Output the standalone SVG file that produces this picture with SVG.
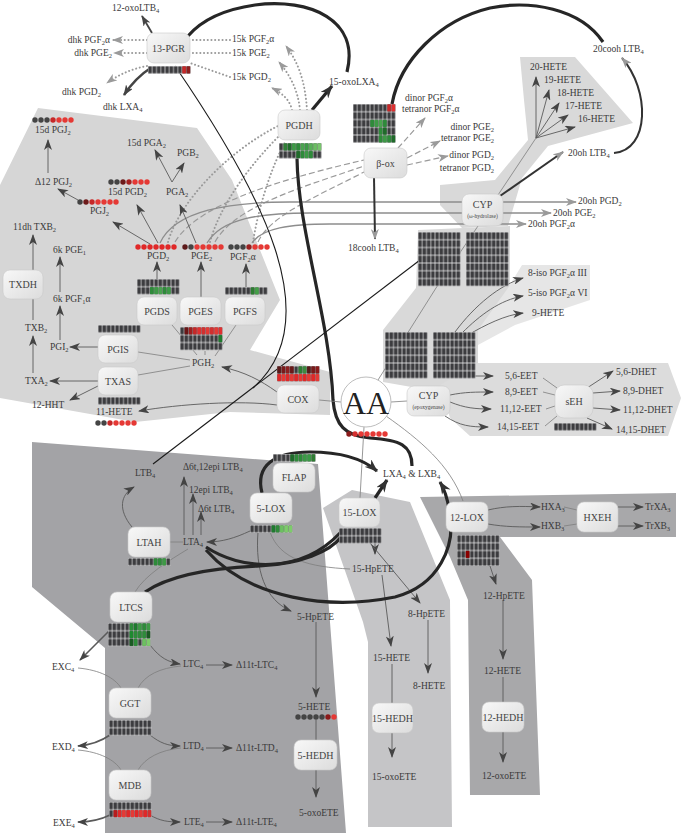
<svg xmlns="http://www.w3.org/2000/svg" width="681" height="833" viewBox="0 0 681 833">
<defs>
<style>
.t{font-family:"Liberation Serif","DejaVu Serif",serif;font-size:9.5px;fill:#3a3a3a}
.e{text-anchor:end}
.nl{font-family:"Liberation Serif","DejaVu Serif",serif;font-size:10px;fill:#444;text-anchor:middle}
.s{font-size:6.5px}
.nd{fill:url(#ng);stroke:#c9c9c9;stroke-width:0.6}
.l{fill:none;stroke:#7d7d7d;stroke-width:0.8}
.a{fill:none;stroke:#5a5a5a;stroke-width:0.9;marker-end:url(#ma)}
.d{fill:none;stroke:#9a9a9a;stroke-width:2;stroke-dasharray:0.1 3.6;stroke-linecap:round}
.dm{marker-end:url(#mg)}
.ds{fill:none;stroke:#9a9a9a;stroke-width:1.2;stroke-dasharray:6 3}
.g{fill:none;stroke:#8d8d8d;stroke-width:1.3;marker-end:url(#mg)}
.k{fill:none;stroke:#262626;stroke-width:3.2}
.km{marker-end:url(#mk)}
.gb{fill:#fff}
.gp{fill:url(#cell)}
</style>
<linearGradient id="ng" x1="0" y1="0" x2="1" y2="1"><stop offset="0" stop-color="#f8f8f8"/><stop offset="1" stop-color="#dcdcdc"/></linearGradient>
<pattern id="cell" width="4.25" height="7.75" patternUnits="userSpaceOnUse"><rect x="0.3" y="0.35" width="3.65" height="7.05" fill="#3c3c3f"/></pattern>
<marker id="ma" viewBox="0 0 11 8" refX="10" refY="4" markerWidth="11" markerHeight="8" markerUnits="userSpaceOnUse" orient="auto"><path d="M0,0 L11,4 L0,8 L3,4 Z" fill="#444"/></marker>
<marker id="mg" viewBox="0 0 11 8" refX="10" refY="4" markerWidth="11" markerHeight="8" markerUnits="userSpaceOnUse" orient="auto"><path d="M0,0 L11,4 L0,8 L3,4 Z" fill="#9a9a9a"/></marker>
<marker id="mk" viewBox="0 0 13 10" refX="12" refY="5" markerWidth="13" markerHeight="10" markerUnits="userSpaceOnUse" orient="auto"><path d="M0,0 L13,5 L0,10 L4,5 Z" fill="#333"/></marker>
</defs>

<g id="regions">
<polygon points="0,185 38,108 197,128 232,180 280,300 250,350 330,372 330,415 230,412 135,422 0,398" fill="#d6d6d6"/>
<polygon points="520,57 575,57 633,123 548,146 522,178 508,226 462,228 440,205 440,185 495,180 528,140 524,100" fill="#d9d9d9"/>
<polygon points="418,230 510,226 510,290 478,332 478,382 440,392 383,382 383,330 416,288" fill="#d9d9d9"/>
<polygon points="508,288 522,265 590,265 590,300 515,325 478,345 478,330" fill="#e6e6e6"/>
<polygon points="440,385 478,363 668,363 681,398 668,436 470,436 450,418" fill="#dcdcdc"/>
<polygon points="32,442 318,464 346,833 105,833 105,648 32,587" fill="#a3a3a6"/>
<polygon points="323,508 352,490 410,502 450,600 452,827 368,827 368,642 363,622" fill="#c5c5c7"/>
<polygon points="420,497 676,493 676,537 500,537 532,580 540,795 470,795 468,600 450,557" fill="#a8a8aa"/>
</g>

<g id="connectors">
<path class="a" style="stroke:#444;stroke-width:1.8" d="M152,33 L142,16"/>
<path class="d" d="M230,40 L190,40"/>
<path class="d dm" d="M147,40 L113,40"/>
<path class="d" d="M230,53 L190,53"/>
<path class="d dm" d="M147,53 L114,53"/>
<path class="d" d="M230,77 Q210,70 190,63"/>
<path class="d dm" d="M147,66 Q125,70 107,83"/>
<path class="a" style="stroke:#444;stroke-width:2.5" d="M152,67 Q135,78 124,95"/>
<path class="d dm" d="M307,110 C305,80 298,62 286,46"/>
<path class="d dm" d="M300,110 C298,90 290,75 279,62"/>
<path class="d dm" d="M292,110 C290,100 282,93 272,88"/>
<path class="d" d="M168,242 C180,200 230,150 278,126"/>
<path class="d" d="M210,242 C220,205 250,165 279,136"/>
<path class="d" d="M253,242 C258,210 270,170 285,142"/>
<path class="ds" d="M175,242 C200,200 300,175 364,160"/>
<path class="ds" d="M215,242 C235,205 310,185 364,166"/>
<path class="ds" d="M258,242 C270,215 320,195 364,172"/>
<path class="ds dm" d="M398,148 L425,118"/>
<path class="ds dm" d="M407,158 L440,141"/>
<path class="ds dm" d="M407,165 L448,156"/>
<path class="g" d="M160,243 C175,210 230,202 290,202 L576,202"/>
<path class="g" d="M207,243 C222,218 260,213 310,213 L551,213"/>
<path class="g" d="M252,243 C262,228 290,224 330,224 L526,224"/>
<path class="k" d="M347,72 C360,20 310,-2 255,5 C220,10 200,22 188,36"/>
<path class="k km" d="M312,110 L332,86"/>
<path class="k" d="M297,158 C298,230 330,320 333,400 C335,425 345,436 370,438 C400,440 412,445 412,466"/>
<path class="k" d="M603,42 C580,8 530,0 490,8 C440,20 400,60 392,104"/>
<path class="g" style="stroke:#333;stroke-width:2" d="M374,177 L375,239"/>
<path class="g" style="stroke:#333;stroke-width:2" d="M614,153 C650,150 650,90 622,58"/>
<path class="g" style="stroke:#333;stroke-width:2" d="M500,196 L563,152"/>
<path class="l" d="M498,195 L536,138"/>
<path class="a" d="M536,138 L536,77"/>
<path class="a" d="M536,138 L549,90"/>
<path class="a" d="M536,138 L559,103"/>
<path class="a" d="M536,138 L568,115"/>
<path class="a" d="M536,138 L575,127"/>
<path class="a" d="M48,173 L48,140"/>
<path class="a" d="M78,200 L58,189"/>
<path class="a" d="M150,244 L113,222"/>
<path class="a" d="M158,243 L137,205"/>
<path class="a" d="M196,243 L180,205"/>
<path class="a" d="M172,182 L155,150"/>
<path class="a" d="M172,182 L184,163"/>
<path class="a" d="M157,279 L157,262"/>
<path class="a" d="M201,297 L201,262"/>
<path class="a" d="M246,287 L246,264"/>
<path class="l" d="M197,355 L172,325"/>
<path class="l" d="M205,355 L205,351"/>
<path class="l" d="M215,356 L236,325"/>
<path class="l" d="M190,360 L138,352"/>
<path class="l" d="M190,366 L138,375"/>
<path class="a" d="M277,392 C260,380 245,372 222,367"/>
<path class="a" d="M277,405 C240,400 180,404 139,411"/>
<path class="a" d="M98,347 L70,347"/>
<path class="a" d="M98,381 L50,381"/>
<path class="a" d="M98,386 L70,400"/>
<path class="a" d="M33,373 L33,336"/>
<path class="a" d="M33,320 L33,235"/>
<path class="a" d="M60,340 L60,306"/>
<path class="a" d="M60,292 L60,257"/>
<path style="fill:none;stroke:#1a1a1a;stroke-width:1.1" d="M153,464 L420,260"/>
<path style="fill:none;stroke:#1a1a1a;stroke-width:1.1" d="M175,66 C260,190 330,320 253,388"/>
<path class="l" d="M341,402 L319,400"/>
<path class="l" d="M391,402 L407,401"/>
<path class="l" d="M364,427 L360,498"/>
<path class="l" d="M386,416 C420,440 450,465 463,501"/>
<path class="l" d="M378,380 L436,288 L478,226"/>
<path class="a" d="M455,332 C475,305 500,285 523,278"/>
<path class="a" d="M462,333 C480,315 500,300 523,296"/>
<path class="a" d="M468,335 C485,325 505,315 523,313"/>
<path class="a" d="M468,376 L493,376"/>
<path class="a" d="M450,395 C465,392 475,392 493,392"/>
<path class="a" d="M450,402 C465,408 475,409 491,409"/>
<path class="a" d="M445,416 C460,426 470,427 488,427"/>
<path class="l" d="M543,378 L557,388"/>
<path class="l" d="M543,392 L555,395"/>
<path class="l" d="M546,409 L555,406"/>
<path class="l" d="M545,426 L557,416"/>
<path class="a" d="M587,388 L613,371"/>
<path class="a" d="M593,393 L620,391"/>
<path class="a" d="M593,408 L620,410"/>
<path class="a" d="M587,418 L612,429"/>
<path class="a" d="M184,535 L184,477"/>
<path class="a" d="M193,535 L193,494"/>
<path class="a" d="M201,535 L201,512"/>
<path class="l" d="M170,542 L183,542"/>
<path class="a" d="M132,527 C118,510 120,495 134,487"/>
<path class="l" d="M188,549 C170,560 145,575 135,592"/>
<path class="a" d="M250,531 C235,538 222,542 207,542"/>
<path class="a" d="M258,532 C255,570 265,600 291,611"/>
<path class="l" d="M270,532 C280,560 310,567 350,569"/>
<path class="a" d="M375,543 L375,554"/>
<path class="a" d="M370,543 L420,603"/>
<path class="a" d="M382,575 L391,646"/>
<path class="a" d="M428,620 L428,673"/>
<path class="a" d="M392,664 L392,757"/>
<path class="a" d="M316,622 L316,697"/>
<path class="a" d="M316,720 L316,797"/>
<path class="a" d="M490,566 L496,584"/>
<path class="a" d="M503,600 L503,659"/>
<path class="a" d="M503,677 L503,762"/>
<path class="a" d="M488,510 C505,506 520,506 540,507"/>
<path class="a" d="M488,524 C505,527 520,527 540,527"/>
<path class="l" d="M564,507 L577,510"/>
<path class="l" d="M564,526 L577,524"/>
<path class="a" d="M618,507 L643,507"/>
<path class="a" d="M618,526 L643,526"/>
<path class="k km" d="M262,493 C255,465 275,452 310,452 C340,452 362,458 377,471"/>
<path class="k km" d="M375,498 L387,480"/>
<path class="k" d="M206,547 C240,570 300,575 340,533"/>
<path class="k km" d="M206,550 C250,600 330,610 395,597 C440,585 455,545 450,515 C448,500 445,490 440,482"/>
<path class="k" d="M145,592 C170,575 210,568 260,566 C300,564 330,552 342,536"/>
<path class="a" style="stroke-width:1.6" d="M110,630 L80,660"/>
<path class="a" d="M150,645 C160,658 168,662 180,664"/>
<path class="l" d="M78,668 C100,670 115,678 121,688"/>
<path class="l" d="M181,666 C160,668 145,675 138,688"/>
<path class="a" d="M206,665 L232,665"/>
<path class="a" style="stroke-width:1.6" d="M110,735 C100,742 90,745 78,746"/>
<path class="a" d="M150,735 C160,743 168,746 180,746"/>
<path class="l" d="M78,750 C100,752 115,760 121,770"/>
<path class="l" d="M181,748 C160,750 145,758 138,770"/>
<path class="a" d="M206,748 L232,748"/>
<path class="a" style="stroke-width:1.6" d="M110,815 C100,820 90,822 78,822"/>
<path class="a" d="M150,815 C160,821 168,822 180,822"/>
<path class="a" d="M206,822 L232,822"/>
</g>

<g id="nodes">
<g id="n-13PGR"><rect class="nd" x="147" y="33" width="43" height="30" rx="7"/><text class="nl" x="168.5" y="52">13-PGR</text>
<g transform="translate(148,66)"><rect class="gb" width="42.5" height="7.75"/><rect class="gp" width="42.5" height="7.75"/><rect x="34.3" y="0.35" width="3.65" height="7.05" fill="#c62828"/><rect x="38.55" y="0.35" width="3.65" height="7.05" fill="#8e1e1e"/></g></g>

<g id="n-PGDH"><rect class="nd" x="278" y="110" width="42" height="30" rx="7"/><text class="nl" x="299" y="129">PGDH</text>
<g transform="translate(279,143)"><rect class="gb" width="42.5" height="15.5"/><rect class="gp" width="42.5" height="15.5"/>
<rect x="4.55" y="0.35" width="3.65" height="7.05" fill="#2f7f36"/><rect x="8.8" y="0.35" width="3.65" height="7.05" fill="#1f6b2a"/><rect x="13.05" y="0.35" width="3.65" height="7.05" fill="#3d9a46"/><rect x="17.3" y="0.35" width="3.65" height="7.05" fill="#2e8b3a"/><rect x="21.55" y="0.35" width="3.65" height="7.05" fill="#4aa34f"/><rect x="25.8" y="0.35" width="3.65" height="7.05" fill="#3d9a46"/><rect x="30.05" y="0.35" width="3.65" height="7.05" fill="#58b058"/><rect x="34.3" y="0.35" width="3.65" height="7.05" fill="#6abd62"/><rect x="38.55" y="0.35" width="3.65" height="7.05" fill="#77c56c"/>
<rect x="17.3" y="8.1" width="3.65" height="7.05" fill="#1f6b2a"/><rect x="21.55" y="8.1" width="3.65" height="7.05" fill="#2e8b3a"/><rect x="25.8" y="8.1" width="3.65" height="7.05" fill="#3d9a46"/><rect x="30.05" y="8.1" width="3.65" height="7.05" fill="#2e8b3a"/></g></g>

<g id="n-box"><rect class="nd" x="364" y="148" width="43" height="30" rx="7"/><text class="nl" x="385.5" y="167">β-ox</text>
<g transform="translate(353,104)"><rect class="gb" width="42.5" height="38.75"/><rect class="gp" width="42.5" height="38.75"/>
<rect x="34.3" y="0.35" width="3.65" height="7.05" fill="#c62828"/><rect x="38.55" y="0.35" width="3.65" height="7.05" fill="#e03030"/>
<rect x="17.3" y="15.85" width="3.65" height="7.05" fill="#2e8b3a"/><rect x="21.55" y="15.85" width="3.65" height="7.05" fill="#3d9a46"/><rect x="25.8" y="15.85" width="3.65" height="7.05" fill="#4aa34f"/><rect x="30.05" y="15.85" width="3.65" height="7.05" fill="#2e8b3a"/>
<rect x="25.8" y="23.6" width="3.65" height="7.05" fill="#2e8b3a"/><rect x="30.05" y="23.6" width="3.65" height="7.05" fill="#1f6b2a"/>
<rect x="25.8" y="31.35" width="3.65" height="7.05" fill="#2e8b3a"/><rect x="30.05" y="31.35" width="3.65" height="7.05" fill="#3d9a46"/><rect x="34.3" y="31.35" width="3.65" height="7.05" fill="#2e8b3a"/><rect x="38.55" y="31.35" width="3.65" height="7.05" fill="#1f6b2a"/></g></g>

<g id="n-CYPw"><rect class="nd" x="462" y="194" width="41" height="32" rx="7"/><text class="nl" x="482.5" y="208">CYP</text><text class="nl" x="482.5" y="218" style="font-size:5.5px">(ω-hydrolase)</text></g>

<g id="grids-cyp">
<g transform="translate(418,232)"><rect class="gb" width="42.5" height="54.25"/><rect class="gp" width="42.5" height="54.25"/></g>
<g transform="translate(466,232)"><rect class="gb" width="42.5" height="54.25"/><rect class="gp" width="42.5" height="54.25"/></g>
<g transform="translate(385,332)"><rect class="gb" width="42.5" height="46.5"/><rect class="gp" width="42.5" height="46.5"/></g>
<g transform="translate(433,332)"><rect class="gb" width="42.5" height="46.5"/><rect class="gp" width="42.5" height="46.5"/></g>
</g>

<g id="n-PGDS"><rect class="nd" x="137" y="297" width="40" height="28" rx="7"/><text class="nl" x="157" y="315">PGDS</text>
<g transform="translate(137,279)"><rect class="gb" width="42.5" height="15.5"/><rect class="gp" width="42.5" height="15.5"/>
<rect x="13.05" y="8.1" width="3.65" height="7.05" fill="#2e8b3a"/><rect x="17.3" y="8.1" width="3.65" height="7.05" fill="#3d9a46"/><rect x="21.55" y="8.1" width="3.65" height="7.05" fill="#4aa34f"/><rect x="25.8" y="8.1" width="3.65" height="7.05" fill="#2e8b3a"/><rect x="30.05" y="8.1" width="3.65" height="7.05" fill="#3d9a46"/></g></g>

<g id="n-PGES"><rect class="nd" x="180" y="297" width="41" height="28" rx="7"/><text class="nl" x="200.5" y="315">PGES</text>
<g transform="translate(180,327)"><rect class="gb" width="42.5" height="23.25"/><rect class="gp" width="42.5" height="23.25"/>
<rect x="4.55" y="0.35" width="3.65" height="7.05" fill="#6a1616"/><rect x="8.8" y="0.35" width="3.65" height="7.05" fill="#9e1f1f"/><rect x="13.05" y="0.35" width="3.65" height="7.05" fill="#c62828"/><rect x="17.3" y="0.35" width="3.65" height="7.05" fill="#e03030"/><rect x="21.55" y="0.35" width="3.65" height="7.05" fill="#d32f2f"/><rect x="25.8" y="0.35" width="3.65" height="7.05" fill="#e53935"/><rect x="30.05" y="0.35" width="3.65" height="7.05" fill="#d32f2f"/><rect x="34.3" y="0.35" width="3.65" height="7.05" fill="#e53935"/><rect x="38.55" y="0.35" width="3.65" height="7.05" fill="#e03030"/>
<rect x="38.55" y="8.1" width="3.65" height="7.05" fill="#1f7a2e"/></g></g>

<g id="n-PGFS"><rect class="nd" x="225" y="297" width="40" height="28" rx="7"/><text class="nl" x="245" y="315">PGFS</text>
<g transform="translate(225,287)"><rect class="gb" width="42.5" height="7.75"/><rect class="gp" width="42.5" height="7.75"/><rect x="25.8" y="0.35" width="3.65" height="7.05" fill="#2e7d32"/><rect x="30.05" y="0.35" width="3.65" height="7.05" fill="#43a047"/></g></g>

<g id="n-PGIS"><rect class="nd" x="98" y="335" width="40" height="28" rx="7"/><text class="nl" x="118" y="353">PGIS</text>
<g transform="translate(98,325)"><rect class="gb" width="42.5" height="7.75"/><rect class="gp" width="42.5" height="7.75"/></g></g>

<g id="n-TXAS"><rect class="nd" x="98" y="367" width="40" height="28" rx="7"/><text class="nl" x="118" y="385">TXAS</text>
<g transform="translate(98,397)"><rect class="gb" width="42.5" height="7.75"/><rect class="gp" width="42.5" height="7.75"/></g></g>

<g id="n-TXDH"><rect class="nd" x="3" y="270" width="40" height="29" rx="7"/><text class="nl" x="23" y="288">TXDH</text></g>

<g id="n-COX"><rect class="nd" x="277" y="385" width="42" height="28" rx="7"/><text class="nl" x="298" y="403">COX</text>
<g transform="translate(277,366)"><rect class="gb" width="42.5" height="15.5"/><rect class="gp" width="42.5" height="15.5"/>
<rect x="0.3" y="0.35" width="3.65" height="7.05" fill="#5a1a1a"/><rect x="4.55" y="0.35" width="3.65" height="7.05" fill="#7a1a1a"/><rect x="8.8" y="0.35" width="3.65" height="7.05" fill="#8e2020"/><rect x="13.05" y="0.35" width="3.65" height="7.05" fill="#6a1a1a"/><rect x="21.55" y="0.35" width="3.65" height="7.05" fill="#2e7d32"/><rect x="25.8" y="0.35" width="3.65" height="7.05" fill="#3d8b40"/><rect x="30.05" y="0.35" width="3.65" height="7.05" fill="#5a1a1a"/><rect x="34.3" y="0.35" width="3.65" height="7.05" fill="#7a1a1a"/><rect x="38.55" y="0.35" width="3.65" height="7.05" fill="#8b1a1a"/>
<rect x="0.3" y="8.1" width="3.65" height="7.05" fill="#e02828"/><rect x="4.55" y="8.1" width="3.65" height="7.05" fill="#e53935"/><rect x="8.8" y="8.1" width="3.65" height="7.05" fill="#e02828"/><rect x="13.05" y="8.1" width="3.65" height="7.05" fill="#e53935"/><rect x="17.3" y="8.1" width="3.65" height="7.05" fill="#e02828"/><rect x="21.55" y="8.1" width="3.65" height="7.05" fill="#e53935"/><rect x="25.8" y="8.1" width="3.65" height="7.05" fill="#e02828"/><rect x="30.05" y="8.1" width="3.65" height="7.05" fill="#e53935"/><rect x="34.3" y="8.1" width="3.65" height="7.05" fill="#e02828"/><rect x="38.55" y="8.1" width="3.65" height="7.05" fill="#e53935"/></g></g>

<g id="n-AA"><circle cx="366" cy="402" r="25" fill="#fff" stroke="#bdbdbd" stroke-width="1"/><text x="366" y="414" style="font-family:'Liberation Serif',serif;font-size:32px;fill:#222;text-anchor:middle">AA</text></g>

<g id="n-CYPe"><rect class="nd" x="407" y="386" width="43" height="30" rx="7"/><text class="nl" x="428.5" y="399">CYP</text><text class="nl" x="428.5" y="409" style="font-size:5.5px">(epoxygenase)</text></g>

<g id="n-sEH"><rect class="nd" x="555" y="385" width="38" height="33" rx="9"/><text class="nl" x="574" y="405">sEH</text>
<g transform="translate(554,423)"><rect class="gb" width="42.5" height="7.75"/><rect class="gp" width="42.5" height="7.75"/></g></g>

<g id="n-FLAP"><rect class="nd" x="273" y="463" width="42" height="29" rx="7"/><text class="nl" x="294" y="481">FLAP</text>
<g transform="translate(273,454)"><rect class="gb" width="42.5" height="7.75"/><rect class="gp" width="42.5" height="7.75"/>
<rect x="17.3" y="0.35" width="3.65" height="7.05" fill="#1e6b2a"/><rect x="21.55" y="0.35" width="3.65" height="7.05" fill="#2e8b3a"/><rect x="25.8" y="0.35" width="3.65" height="7.05" fill="#2e8b3a"/><rect x="30.05" y="0.35" width="3.65" height="7.05" fill="#3a9a45"/><rect x="34.3" y="0.35" width="3.65" height="7.05" fill="#3a9a45"/><rect x="38.55" y="0.35" width="3.65" height="7.05" fill="#2e7d32"/></g></g>

<g id="n-5LOX"><rect class="nd" x="250" y="493" width="42" height="30" rx="7"/><text class="nl" x="271" y="512">5-LOX</text>
<g transform="translate(250,525)"><rect class="gb" width="42.5" height="7.75"/><rect class="gp" width="42.5" height="7.75"/>
<rect x="21.55" y="0.35" width="3.65" height="7.05" fill="#1f7a30"/><rect x="25.8" y="0.35" width="3.65" height="7.05" fill="#2e8b3a"/><rect x="30.05" y="0.35" width="3.65" height="7.05" fill="#6cc060"/><rect x="34.3" y="0.35" width="3.65" height="7.05" fill="#7dcc6b"/><rect x="38.55" y="0.35" width="3.65" height="7.05" fill="#7dcc6b"/></g></g>

<g id="n-15LOX"><rect class="nd" x="339" y="498" width="41" height="29" rx="7"/><text class="nl" x="359.5" y="516">15-LOX</text>
<g transform="translate(339,528)"><rect class="gb" width="42.5" height="15.5"/><rect class="gp" width="42.5" height="15.5"/></g></g>

<g id="n-12LOX"><rect class="nd" x="446" y="502" width="42" height="30" rx="7"/><text class="nl" x="467" y="521">12-LOX</text>
<g transform="translate(457,535)"><rect class="gb" width="42.5" height="31"/><rect class="gp" width="42.5" height="31"/><rect x="8.8" y="15.85" width="3.65" height="7.05" fill="#8b0000"/></g></g>

<g id="n-HXEH"><rect class="nd" x="577" y="502" width="41" height="30" rx="7"/><text class="nl" x="597.5" y="521">HXEH</text></g>

<g id="n-LTAH"><rect class="nd" x="128" y="527" width="42" height="30" rx="7"/><text class="nl" x="149" y="546">LTAH</text>
<g transform="translate(128,558)"><rect class="gb" width="42.5" height="7.75"/><rect class="gp" width="42.5" height="7.75"/>
<rect x="25.8" y="0.35" width="3.65" height="7.05" fill="#2e8b3a"/><rect x="30.05" y="0.35" width="3.65" height="7.05" fill="#2e8b3a"/><rect x="34.3" y="0.35" width="3.65" height="7.05" fill="#3d9a45"/></g></g>

<g id="n-LTCS"><rect class="nd" x="110" y="592" width="42" height="30" rx="7"/><text class="nl" x="131" y="611">LTCS</text>
<g transform="translate(108,623)"><rect class="gb" width="42.5" height="23.25"/><rect class="gp" width="42.5" height="23.25"/>
<rect x="21.55" y="0.35" width="3.65" height="7.05" fill="#2e8b3a"/><rect x="25.8" y="0.35" width="3.65" height="7.05" fill="#1e7a2e"/><rect x="30.05" y="0.35" width="3.65" height="7.05" fill="#3d9a45"/><rect x="34.3" y="0.35" width="3.65" height="7.05" fill="#2e8b3a"/><rect x="38.55" y="0.35" width="3.65" height="7.05" fill="#3d9a45"/>
<rect x="21.55" y="8.1" width="3.65" height="7.05" fill="#1e8a30"/><rect x="25.8" y="8.1" width="3.65" height="7.05" fill="#2e8b3a"/><rect x="30.05" y="8.1" width="3.65" height="7.05" fill="#2e8b3a"/><rect x="34.3" y="8.1" width="3.65" height="7.05" fill="#2e8b3a"/><rect x="38.55" y="8.1" width="3.65" height="7.05" fill="#1a5a22"/>
<rect x="21.55" y="15.85" width="3.65" height="7.05" fill="#1a5a22"/><rect x="25.8" y="15.85" width="3.65" height="7.05" fill="#2e8b3a"/><rect x="34.3" y="15.85" width="3.65" height="7.05" fill="#6cc060"/><rect x="38.55" y="15.85" width="3.65" height="7.05" fill="#7dcc6b"/></g></g>

<g id="n-GGT"><rect class="nd" x="109" y="688" width="42" height="30" rx="7"/><text class="nl" x="130" y="707">GGT</text>
<g transform="translate(109,720)"><rect class="gb" width="42.5" height="15.5"/><rect class="gp" width="42.5" height="15.5"/></g></g>

<g id="n-MDB"><rect class="nd" x="109" y="770" width="42" height="30" rx="7"/><text class="nl" x="130" y="789">MDB</text>
<g transform="translate(109,802)"><rect class="gb" width="42.5" height="15.5"/><rect class="gp" width="42.5" height="15.5"/>
<rect x="4.55" y="8.1" width="3.65" height="7.05" fill="#b71c1c"/><rect x="8.8" y="8.1" width="3.65" height="7.05" fill="#e02828"/><rect x="13.05" y="8.1" width="3.65" height="7.05" fill="#e53935"/><rect x="17.3" y="8.1" width="3.65" height="7.05" fill="#e02828"/><rect x="21.55" y="8.1" width="3.65" height="7.05" fill="#e53935"/><rect x="25.8" y="8.1" width="3.65" height="7.05" fill="#e02828"/><rect x="30.05" y="8.1" width="3.65" height="7.05" fill="#e53935"/><rect x="34.3" y="8.1" width="3.65" height="7.05" fill="#e02828"/><rect x="38.55" y="8.1" width="3.65" height="7.05" fill="#d32f2f"/></g></g>

<g id="n-5HEDH"><rect class="nd" x="294" y="740" width="43" height="30" rx="7"/><text class="nl" x="315.5" y="759">5-HEDH</text></g>
<g id="n-15HEDH"><rect class="nd" x="372" y="703" width="41" height="30" rx="7"/><text class="nl" x="392.5" y="722">15-HEDH</text></g>
<g id="n-12HEDH"><rect class="nd" x="482" y="702" width="42" height="30" rx="7"/><text class="nl" x="503" y="721">12-HEDH</text></g>
</g>

<g id="dots">
<g fill="#444"><circle cx="35" cy="120" r="2.7"/><circle cx="41" cy="120" r="2.7"/><circle cx="47" cy="120" r="2.7"/></g>
<g fill="#e53935"><circle cx="53" cy="120" r="2.7" fill="#c62828"/><circle cx="59" cy="120" r="2.7"/><circle cx="65" cy="120" r="2.7"/><circle cx="71" cy="120" r="2.7"/></g>
<g fill="#e53935"><circle cx="111" cy="182" r="2.7" fill="#444"/><circle cx="117" cy="182" r="2.7" fill="#444"/><circle cx="123" cy="182" r="2.7" fill="#6d1b1b"/><circle cx="129" cy="182" r="2.7" fill="#a52020"/><circle cx="135" cy="182" r="2.7"/><circle cx="141" cy="182" r="2.7"/><circle cx="147" cy="182" r="2.7"/></g>
<g fill="#e53935"><circle cx="80" cy="202" r="2.7" fill="#444"/><circle cx="86" cy="202" r="2.7" fill="#6d1b1b"/><circle cx="92" cy="202" r="2.7" fill="#c62828"/><circle cx="98" cy="202" r="2.7"/><circle cx="104" cy="202" r="2.7"/><circle cx="110" cy="202" r="2.7"/><circle cx="116" cy="202" r="2.7"/></g>
<g fill="#e02828"><circle cx="138" cy="247" r="2.7"/><circle cx="144" cy="247" r="2.7"/><circle cx="150" cy="247" r="2.7"/><circle cx="156" cy="247" r="2.7"/><circle cx="162" cy="247" r="2.7"/><circle cx="168" cy="247" r="2.7"/><circle cx="174" cy="247" r="2.7"/></g>
<g fill="#e53935"><circle cx="185" cy="247" r="2.7" fill="#5c1a1a"/><circle cx="191" cy="247" r="2.7" fill="#444"/><circle cx="197" cy="247" r="2.7"/><circle cx="203" cy="247" r="2.7"/><circle cx="209" cy="247" r="2.7"/><circle cx="215" cy="247" r="2.7"/><circle cx="221" cy="247" r="2.7"/></g>
<g fill="#e53935"><circle cx="231" cy="247" r="2.7" fill="#444"/><circle cx="237" cy="247" r="2.7" fill="#444"/><circle cx="243" cy="247" r="2.7" fill="#444"/><circle cx="249" cy="247" r="2.7" fill="#9a2020"/><circle cx="255" cy="247" r="2.7"/><circle cx="261" cy="247" r="2.7"/><circle cx="267" cy="247" r="2.7"/></g>
<g fill="#e53935"><circle cx="98" cy="423" r="2.7" fill="#444"/><circle cx="104" cy="423" r="2.7" fill="#444"/><circle cx="110" cy="423" r="2.7" fill="#c62828"/><circle cx="116" cy="423" r="2.7"/><circle cx="122" cy="423" r="2.7"/><circle cx="128" cy="423" r="2.7"/><circle cx="134" cy="423" r="2.7"/></g>
<g fill="#444"><circle cx="298" cy="717" r="2.7"/><circle cx="304" cy="717" r="2.7"/><circle cx="310" cy="717" r="2.7"/><circle cx="316" cy="717" r="2.7"/><circle cx="322" cy="717" r="2.7"/><circle cx="328" cy="717" r="2.7" fill="#8b1a1a"/><circle cx="334" cy="717" r="2.7" fill="#e53935"/></g>
<g fill="#e53935"><circle cx="349" cy="434" r="2.7" fill="#8b1a1a"/><circle cx="355" cy="434" r="2.7" fill="#d32f2f"/><circle cx="361" cy="434" r="2.7"/><circle cx="367" cy="434" r="2.7"/><circle cx="373" cy="434" r="2.7"/><circle cx="379" cy="434" r="2.7"/><circle cx="385" cy="434" r="2.7"/></g>
</g>

<g id="labels">
<text class="t" x="112" y="11">12-oxoLTB<tspan class="s" dy="2">4</tspan></text>
<text class="t e" x="110" y="43">dhk PGF<tspan class="s" dy="2">2</tspan><tspan dy="-2">α</tspan></text>
<text class="t e" x="112" y="56">dhk PGE<tspan class="s" dy="2">2</tspan></text>
<text class="t" x="62" y="95">dhk PGD<tspan class="s" dy="2">2</tspan></text>
<text class="t" x="103" y="110">dhk LXA<tspan class="s" dy="2">4</tspan></text>
<text class="t" x="232" y="42">15k PGF<tspan class="s" dy="2">2</tspan><tspan dy="-2">α</tspan></text>
<text class="t" x="232" y="56">15k PGE<tspan class="s" dy="2">2</tspan></text>
<text class="t" x="232" y="80">15k PGD<tspan class="s" dy="2">2</tspan></text>
<text class="t" x="329" y="85">15-oxoLXA<tspan class="s" dy="2">4</tspan></text>
<text class="t" x="405" y="101">dinor PGF<tspan class="s" dy="2">2</tspan><tspan dy="-2">α</tspan></text>
<text class="t" x="402" y="112">tetranor PGF<tspan class="s" dy="2">2</tspan><tspan dy="-2">α</tspan></text>
<text class="t e" x="494" y="130">dinor PGE<tspan class="s" dy="2">2</tspan></text>
<text class="t e" x="494" y="141">tetranor PGE<tspan class="s" dy="2">2</tspan></text>
<text class="t e" x="494" y="158">dinor PGD<tspan class="s" dy="2">2</tspan></text>
<text class="t e" x="494" y="171">tetranor PGD<tspan class="s" dy="2">2</tspan></text>
<text class="t" x="593" y="52">20cooh LTB<tspan class="s" dy="2">4</tspan></text>
<text class="t" x="530" y="70">20-HETE</text>
<text class="t" x="544" y="83">19-HETE</text>
<text class="t" x="557" y="96">18-HETE</text>
<text class="t" x="565" y="109">17-HETE</text>
<text class="t" x="578" y="122">16-HETE</text>
<text class="t" x="568" y="156">20oh LTB<tspan class="s" dy="2">4</tspan></text>
<text class="t" x="578" y="204">20oh PGD<tspan class="s" dy="2">2</tspan></text>
<text class="t" x="553" y="216">20oh PGE<tspan class="s" dy="2">2</tspan></text>
<text class="t" x="528" y="227">20oh PGF<tspan class="s" dy="2">2</tspan><tspan dy="-2">α</tspan></text>
<text class="t" x="348" y="251">18cooh LTB<tspan class="s" dy="2">4</tspan></text>
<text class="t" x="35" y="133">15d PGJ<tspan class="s" dy="2">2</tspan></text>
<text class="t" x="35" y="185">Δ12 PGJ<tspan class="s" dy="2">2</tspan></text>
<text class="t" x="127" y="146">15d PGA<tspan class="s" dy="2">2</tspan></text>
<text class="t" x="177" y="156">PGB<tspan class="s" dy="2">2</tspan></text>
<text class="t" x="108" y="195">15d PGD<tspan class="s" dy="2">2</tspan></text>
<text class="t" x="166" y="195">PGA<tspan class="s" dy="2">2</tspan></text>
<text class="t" x="90" y="214">PGJ<tspan class="s" dy="2">2</tspan></text>
<text class="t" x="13" y="230">11dh TXB<tspan class="s" dy="2">2</tspan></text>
<text class="t" x="53" y="253">6k PGE<tspan class="s" dy="2">1</tspan></text>
<text class="t" x="53" y="302">6k PGF<tspan class="s" dy="2">1</tspan><tspan dy="-2">α</tspan></text>
<text class="t" x="25" y="331">TXB<tspan class="s" dy="2">2</tspan></text>
<text class="t" x="50" y="350">PGI<tspan class="s" dy="2">2</tspan></text>
<text class="t" x="25" y="384">TXA<tspan class="s" dy="2">2</tspan></text>
<text class="t" x="32" y="408">12-HHT</text>
<text class="t" x="96" y="415">11-HETE</text>
<text class="t" x="147" y="259">PGD<tspan class="s" dy="2">2</tspan></text>
<text class="t" x="191" y="259">PGE<tspan class="s" dy="2">2</tspan></text>
<text class="t" x="230" y="260">PGF<tspan class="s" dy="2">2</tspan><tspan dy="-2">α</tspan></text>
<text class="t" x="192" y="366">PGH<tspan class="s" dy="2">2</tspan></text>
<text class="t" x="528" y="276">8-iso PGF<tspan class="s" dy="2">2</tspan><tspan dy="-2">α III</tspan></text>
<text class="t" x="528" y="296">5-iso PGF<tspan class="s" dy="2">2</tspan><tspan dy="-2">α VI</tspan></text>
<text class="t" x="532" y="316">9-HETE</text>
<text class="t" x="505" y="379">5,6-EET</text>
<text class="t" x="505" y="395">8,9-EET</text>
<text class="t" x="500" y="412">11,12-EET</text>
<text class="t" x="497" y="430">14,15-EET</text>
<text class="t" x="616" y="375">5,6-DHET</text>
<text class="t" x="623" y="394">8,9-DHET</text>
<text class="t" x="623" y="413">11,12-DHET</text>
<text class="t" x="616" y="433">14,15-DHET</text>
<text class="t" x="135" y="476">LTB<tspan class="s" dy="2">4</tspan></text>
<text class="t" x="183" y="470">Δ6t,12epi LTB<tspan class="s" dy="2">4</tspan></text>
<text class="t" x="189" y="493">12epi LTB<tspan class="s" dy="2">4</tspan></text>
<text class="t" x="198" y="512">Δ6t LTB<tspan class="s" dy="2">4</tspan></text>
<text class="t" x="183" y="545">LTA<tspan class="s" dy="2">4</tspan></text>
<text class="t" x="383" y="477">LXA<tspan class="s" dy="2">4</tspan><tspan dy="-2"> &amp; LXB</tspan><tspan class="s" dy="2">4</tspan></text>
<text class="t" x="352" y="572">15-HpETE</text>
<text class="t" x="297" y="620">5-HpETE</text>
<text class="t" x="408" y="617">8-HpETE</text>
<text class="t" x="483" y="599">12-HpETE</text>
<text class="t" x="541" y="510">HXA<tspan class="s" dy="2">3</tspan></text>
<text class="t" x="541" y="529">HXB<tspan class="s" dy="2">3</tspan></text>
<text class="t" x="645" y="510">TrXA<tspan class="s" dy="2">3</tspan></text>
<text class="t" x="645" y="529">TrXB<tspan class="s" dy="2">3</tspan></text>
<text class="t" x="52" y="670">EXC<tspan class="s" dy="2">4</tspan></text>
<text class="t" x="183" y="667">LTC<tspan class="s" dy="2">4</tspan></text>
<text class="t" x="52" y="750">EXD<tspan class="s" dy="2">4</tspan></text>
<text class="t" x="183" y="749">LTD<tspan class="s" dy="2">4</tspan></text>
<text class="t" x="53" y="826">EXE<tspan class="s" dy="2">4</tspan></text>
<text class="t" x="184" y="825">LTE<tspan class="s" dy="2">4</tspan></text>
<text class="t" x="236" y="668">Δ11t-LTC<tspan class="s" dy="2">4</tspan></text>
<text class="t" x="236" y="751">Δ11t-LTD<tspan class="s" dy="2">4</tspan></text>
<text class="t" x="236" y="825">Δ11t-LTE<tspan class="s" dy="2">4</tspan></text>
<text class="t" x="298" y="710">5-HETE</text>
<text class="t" x="299" y="816">5-oxoETE</text>
<text class="t" x="373" y="661">15-HETE</text>
<text class="t" x="413" y="689">8-HETE</text>
<text class="t" x="372" y="780">15-oxoETE</text>
<text class="t" x="484" y="674">12-HETE</text>
<text class="t" x="482" y="779">12-oxoETE</text>
</g>
</svg>
